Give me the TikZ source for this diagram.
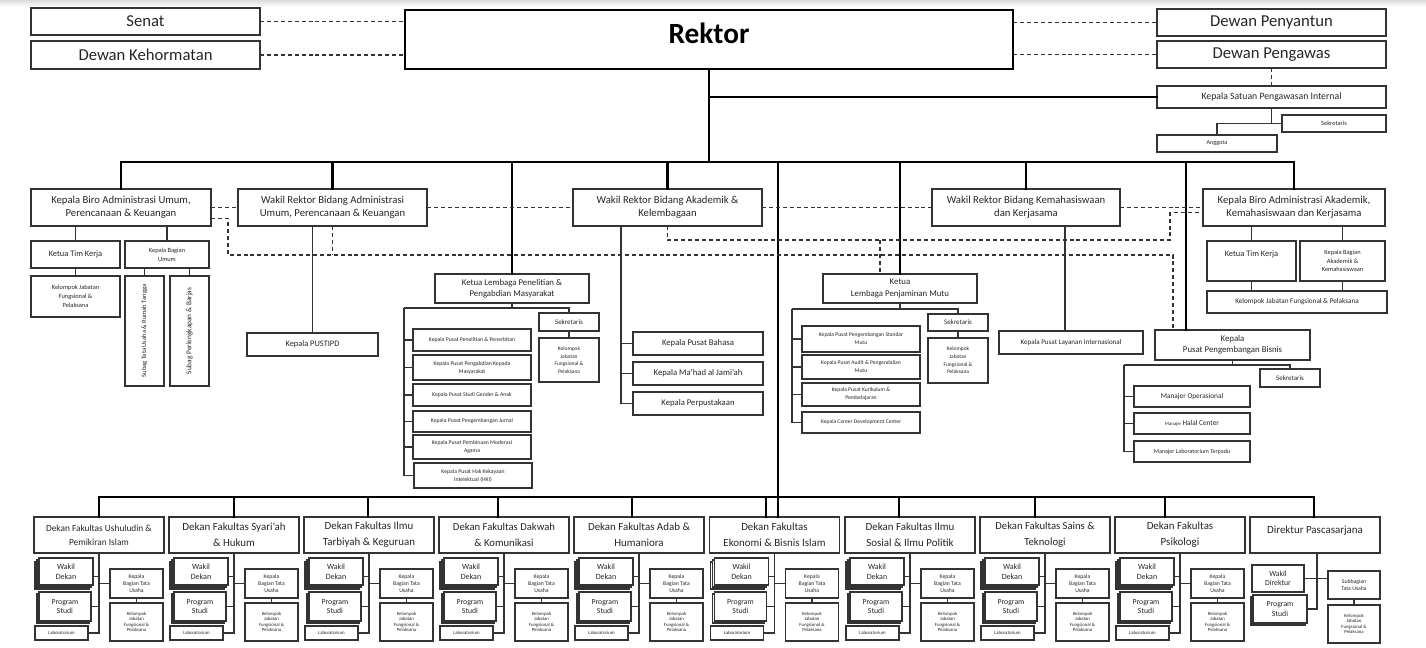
\documentclass[tikz,border=0pt]{standalone}
\usepackage{fontspec}
\setmainfont{Carlito}
\usepackage{graphicx}
\usetikzlibrary{calc}
\newcommand\fs[2]{\fontsize{#1}{#2}\selectfont}
\newcommand\bx[7][]{\node[box,minimum width={((#5)-(#3))*0.75pt},minimum height={((#6)-(#4))*0.75pt},#1] (#2) at ({((#3)+(#5))/2},{((#4)+(#6))/2}) {#7};}
\tikzset{
 box/.style={draw=black!80,line width=0.8pt,fill=white,align=center,inner sep=0.5pt,outer sep=0pt,text=black!85},
 bus/.style={draw=black,line width=1.6pt,line cap=rect},
 con/.style={draw=black!80,line width=0.8pt},
 dsh/.style={draw=black!80,line width=0.8pt,dash pattern=on 3pt off 2.2pt},
 back/.style={draw=black!80,line width=0.8pt,fill=white},
}
% faculty block: #1 id, #2 left x, #3 bus x, #4 title, #5 size, #6 leading
\newcommand\fac[6]{%
 \bx[font=\fs{#5}{#6}]{f#1}{#2}{517}{#2+130}{553}{#4}
 \draw[back] ({#2+1},562) rectangle ({#2+55},589);
 \draw[back] ({#2+3},560) rectangle ({#2+57},587);
 \bx[font=\fs{6}{7.2}]{f#1wd}{#2+5}{558}{#2+59}{585}{Wakil\\Dekan}
 \draw[back] ({#2+3},594) rectangle ({#2+55},623);
 \bx[font=\fs{5.8}{7.2}]{f#1ps}{#2+5}{592}{#2+57}{621}{Program\\Studi}
 \bx[font=\fs{3.6}{4}]{f#1lab}{#2+1}{626}{#2+54}{640}{Laboratorium}
 \bx[font=\fs{4.3}{5}]{f#1tu}{#2+76}{569}{#2+129}{598}{Kepala\\Bagian Tata\\Usaha}
 \bx[font=\fs{3.6}{4}]{f#1kj}{#2+76}{603}{#2+129}{641}{Kelompok\\Jabatan\\Fungsional \&\\Pelaksana}
 \draw[con] (f#1.south) |- (f#1lab.east);
 \draw[con] ([yshift=-4pt]f#1wd.east) -- ([yshift=-4pt]f#1wd.east -| f#1.south);
 \draw[con] (f#1ps.east) -- (f#1ps.east -| f#1.south);
 \draw[con] (f#1tu.west -| f#1.south) -- (f#1tu.west);
 \draw[con] (f#1tu.south) -- (f#1kj.north);
 \coordinate (f#1top) at (#3,517);
 \draw[bus] (f#1top) -- (f#1top |- bb);
}
\begin{document}
\begin{tikzpicture}[x=0.75pt,y=-0.75pt]
\useasboundingbox (0,0) rectangle (1426,648);
\fill[white] (0,0) rectangle (1426,648);
\shade[top color=black!14,bottom color=white] (0,0) rectangle (1426,7);

% ---------- top ----------
\bx[font=\fs{12.5}{15}]{senat}{31}{8}{260}{35}{Senat}
\bx[font=\fs{12.5}{15}]{dk}{31}{41}{260}{69}{Dewan Kehormatan}
\bx[line width=1.8pt,draw=black]{rektor}{405}{10}{1013}{69}{}
\node[font=\fs{22}{26}\bfseries,text=black] (rektortxt) at (709,33) {Rektor};
\bx[font=\fs{12.5}{15}]{dpy}{1157}{9}{1386}{36}{Dewan Penyantun}
\bx[font=\fs{12.5}{15}]{dpw}{1157}{41}{1386}{68}{Dewan Pengawas}
\bx[font=\fs{7.3}{9}]{spi}{1157}{86}{1386}{108}{Kepala Satuan Pengawasan Internal}
\bx[font=\fs{4.8}{6}]{spisek}{1282}{115}{1386}{132}{Sekretaris}
\bx[font=\fs{4.6}{6}]{spiagg}{1157}{135}{1277}{152}{Anggota}

% ---------- level 2 ----------
\bx[font=\fs{8}{10}]{kbaupk}{31}{189}{211}{226}{Kepala Biro Administrasi Umum,\\Perencanaan \& Keuangan}
\bx[font=\fs{8}{10}]{wradm}{238}{189}{427}{226}{Wakil Rektor Bidang Administrasi\\Umum, Perencanaan \& Keuangan}
\bx[font=\fs{8}{10}]{wrak}{573}{189}{762}{226}{Wakil Rektor Bidang Akademik \&\\Kelembagaan}
\bx[font=\fs{8}{10}]{wrkm}{932}{189}{1120}{226}{Wakil Rektor Bidang Kemahasiswaan\\dan Kerjasama}
\bx[font=\fs{8}{10}]{kbaakk}{1203}{189}{1385}{226}{Kepala Biro Administrasi Akademik,\\Kemahasiswaan dan Kerjasama}

% ---------- under Biro AUPK ----------
\bx[font=\fs{6.3}{7.5}]{ktk1}{31}{241}{120}{268}{Ketua Tim Kerja}
\bx[font=\fs{4.8}{6.5}]{kbu}{125}{241}{209}{268}{Kepala Bagian\\Umum}
\bx[font=\fs{4.8}{6.8}]{kjf1}{31}{276}{120}{317}{Kelompok Jabatan\\Fungsional \&\\Pelaksana}
\bx[font=\fs{4.9}{6}]{sub1}{125}{276}{164}{386}{\rotatebox{90}{Subag Tata Usaha \& Rumah Tangga}}
\bx[font=\fs{5.5}{6}]{sub2}{170}{276}{209}{386}{\rotatebox{90}{Subag Perlengkapan \& Barjas}}

% ---------- under WR Adm ----------
\bx[font=\fs{6.3}{7.5}]{pustipd}{247}{333}{378}{356}{Kepala PUSTIPD}

% ---------- LPPM ----------
\bx[font=\fs{6.6}{8.5}]{lppm}{435}{274}{589}{303}{Ketua Lembaga Penelitian \&\\Pengabdian Masyarakat}
\bx[font=\fs{5.2}{6.5}]{lppmsek}{539}{313}{599}{331}{Sekretaris}
\bx[font=\fs{4.1}{5.8}]{lppmkj}{539}{338}{599}{382}{Kelompok\\Jabatan\\Fungsional \&\\Pelaksana}
\bx[font=\fs{4.3}{6}]{p1}{413}{329}{531}{351}{Kepala Pusat Penelitian \& Penerbitan}
\bx[font=\fs{4.3}{6}]{p2}{413}{355}{531}{380}{Kepala Pusat Pengabdian Kepada\\Masyarakat}
\bx[font=\fs{4.3}{6}]{p3}{413}{384}{531}{406}{Kepala Pusat Studi Gender \& Anak}
\bx[font=\fs{4.3}{6}]{p4}{413}{411}{531}{432}{Kepala Pusat Pengembangan Jurnal}
\bx[font=\fs{4.3}{6}]{p5}{413}{435}{531}{459}{Kepala Pusat Pembinaan Moderasi\\Agama}
\bx[font=\fs{4.3}{6}]{p6}{414}{463}{532}{488}{Kepala Pusat Hak Kekayaan\\Intelektual (HKI)}

% ---------- WR Akademik ----------
\bx[font=\fs{6.5}{8}]{bahasa}{633}{332}{763}{355}{Kepala Pusat Bahasa}
\bx[font=\fs{6.5}{8}]{mahad}{633}{362}{763}{385}{Kepala Ma’had al Jami’ah}
\bx[font=\fs{6.5}{8}]{perpus}{633}{392}{763}{415}{Kepala Perpustakaan}

% ---------- LPM ----------
\bx[font=\fs{6.6}{8.5}]{lpm}{823}{274}{977}{303}{Ketua\\Lembaga Penjaminan Mutu}
\bx[font=\fs{5.2}{6.5}]{lpmsek}{928}{314}{988}{331}{Sekretaris}
\bx[font=\fs{4.1}{5.8}]{lpmkj}{928}{338}{988}{383}{Kelompok\\Jabatan\\Fungsional \&\\Pelaksana}
\bx[font=\fs{4.2}{6}]{m1}{802}{326}{920}{352}{Kepala Pusat Pengembangan Standar\\Mutu}
\bx[font=\fs{4.2}{6}]{m2}{802}{355}{920}{379}{Kepala Pusat Audit \& Pengendalian\\Mutu}
\bx[font=\fs{4.2}{6}]{m3}{802}{383}{920}{406}{Kepala Pusat Kurikulum \&\\Pembelajaran}
\bx[font=\fs{4.2}{6}]{m4}{802}{412}{920}{433}{Kepala Career Development Center}

% ---------- WR Kemahasiswaan / PPB ----------
\bx[font=\fs{5.3}{7}]{pli}{999}{331}{1143}{354}{Kepala Pusat Layanan Internasional}
\bx[font=\fs{6.6}{8.5}]{ppb}{1155}{330}{1310}{360}{Kepala\\Pusat Pengembangan Bisnis}
\bx[font=\fs{5.2}{6.5}]{ppbsek}{1260}{369}{1320}{387}{Sekretaris}
\bx[font=\fs{5.5}{7}]{mo}{1134}{386}{1250}{407}{Manajer Operasional}
\bx[font=\fs{5.5}{7}]{mh}{1134}{413}{1250}{434}{{\fs{3.6}{5}Manajer }Halal Center}
\bx[font=\fs{4.5}{6}]{ml}{1134}{441}{1250}{462}{Manajer Laboratorium Terpadu}

% ---------- Biro AAKK ----------
\bx[font=\fs{6.3}{7.5}]{ktk2}{1207}{241}{1296}{281}{Ketua Tim Kerja\\[3pt]\mbox{}}
\bx[font=\fs{4.8}{6.5}]{kbak}{1300}{241}{1385}{281}{Kepala Bagian\\Akademik \&\\Kemahasiswaan}
\bx[font=\fs{5.4}{7}]{kjf2}{1207}{291}{1387}{313}{Kelompok Jabatan Fungsional \& Pelaksana}

% ---------- faculties ----------
\coordinate (bb) at (0,497);
\fac{1}{34}{99}{Dekan Fakultas Ushuludin \&\\Pemikiran Islam}{7}{10.5}
\fac{2}{169}{234}{Dekan Fakultas Syari’ah\\\& Hukum}{8.2}{12}
\fac{3}{304}{368}{Dekan Fakultas Ilmu\\Tarbiyah \& Keguruan}{8.2}{12}
\fac{4}{439}{498}{Dekan Fakultas Dakwah\\\& Komunikasi}{8}{12}
\fac{5}{574}{632}{Dekan Fakultas Adab \&\\Humaniora}{8.2}{12}
\fac{6}{709.5}{766}{Dekan Fakultas\\Ekonomi \& Bisnis Islam}{8.2}{12}
\fac{7}{845}{899}{Dekan Fakultas Ilmu\\Sosial \& Ilmu Politik}{8.2}{12}
\fac{8}{980}{1035}{Dekan Fakultas Sains \&\\Teknologi}{8}{12}
\fac{9}{1115}{1165}{Dekan Fakultas\\Psikologi}{8.2}{12}
% Pascasarjana
\bx[font=\fs{8.2}{12}]{f10}{1250}{517}{1380}{553}{Direktur Pascasarjana\\[-4pt]\mbox{}}
\bx[font=\fs{5.8}{7.2}]{f10wd}{1252}{565}{1304}{592}{Wakil\\Direktur}
\draw[back] (1251,597) rectangle (1305,625);
\bx[font=\fs{5.8}{7.2}]{f10ps}{1253}{595}{1307}{623}{Program\\Studi}
\bx[font=\fs{4.3}{5.2}]{f10tu}{1328}{571}{1380}{599}{Subbagian\\Tata Usaha}
\bx[font=\fs{3.6}{4}]{f10kj}{1328}{605}{1380}{643}{Kelompok\\Jabatan\\Fungsional \&\\Pelaksana}
\coordinate (f10sp) at (1317,553);
\draw[con] (f10sp) |- (f10ps.east);
\draw[con] (f10wd.east) -- (f10wd.east -| f10tu.west);
\draw[con] (f10tu.south) -- (f10kj.north);
\coordinate (f10top) at (1314,517);
\draw[bus] (f10top) -- (f10top |- bb);
\draw[bus] (f1top |- bb) -- (f10top |- bb);

% ---------- top connectors ----------
\draw[dsh] (senat.east) -- (senat.east -| rektor.west);
\draw[dsh] (dk.east) -- (dk.east -| rektor.west);
\draw[dsh] (dpy.west -| rektor.east) -- (dpy.west);
\draw[dsh] (dpw.west -| rektor.east) -- (dpw.west);
\draw[dsh] (dpw.south) -- (spi.north);
\draw[bus] (rektor.south |- spi.west) -- (spi.west);
\draw[con] (spi.south) |- (spisek.west);
\draw[con] (spiagg.north) |- (spisek.west);

\coordinate (tb) at (0,162);
\draw[bus] (rektor.south) -- (rektor.south |- tb);
\draw[bus] (kbaupk.north |- tb) -- (kbaakk.north |- tb);
\foreach \n in {kbaupk,wradm,lppm,wrak,lpm,wrkm,kbaakk} {\draw[bus] (\n.north |- tb) -- (\n.north);}
\coordinate (ppbx) at (1186,162);
\draw[bus] (ppbx) -- (ppbx |- ppb.north);
\coordinate (mid) at (778,162);
\draw[bus] (mid) -- (mid |- f6.north);

% ---------- dashed coordination lines ----------
\draw[dsh] (kbaupk.east) -- (wradm.west);
\draw[dsh] (wradm.east) -- (wrak.west);
\draw[dsh] (wrak.east) -- (wrkm.west);
\draw[dsh] (wrkm.east) -- (kbaakk.west);
\coordinate (d1a) at (228,255);
\coordinate (d1b) at (1173,255);
\draw[dsh] ([yshift=-8pt]kbaupk.east) -| (d1a) -- (d1b) -- (d1b |- ppb.north);
\draw[dsh] (wradm.south) -- (wradm.south |- d1a);
\coordinate (d2) at (1170,240);
\draw[dsh] (wrak.south) |- (d2) |- ([yshift=-4pt]kbaakk.west);
\coordinate (d3) at (880,240);
\draw[dsh] (d3) -- (d3 |- lpm.north);

% ---------- Biro AUPK connectors ----------
\draw[con] (ktk1.north) -- (ktk1.north |- kbaupk.south);
\draw[con] (kbu.north) -- (kbu.north |- kbaupk.south);
\draw[con] (ktk1.south) -- (kjf1.north);
\draw[con] (sub1.north) -- (sub1.north |- kbu.south);
\draw[con] (sub2.north) -- (sub2.north |- kbu.south);
\draw[con] (pustipd.north) -- (pustipd.north |- wradm.south);

% ---------- LPPM connectors ----------
\coordinate (lppmL) at (404,308);
\draw[con] (lppm.south) -- (lppm.south |- lppmL);
\draw[con] (lppmL) -| (lppmsek.north);
\draw[con] (lppmsek.south) -- (lppmkj.north);
\draw[con] (lppmL) |- (p6.west);
\foreach \n in {p1,p2,p3,p4,p5} {\draw[con] (\n.west) -- (\n.west -| lppmL);}

% ---------- WR Akademik connectors ----------
\coordinate (akL) at (621,226);
\draw[con] (akL) |- (perpus.west);
\draw[con] (bahasa.west) -- (bahasa.west -| akL);
\draw[con] (mahad.west) -- (mahad.west -| akL);

% ---------- LPM connectors ----------
\coordinate (lpmL) at (792,309);
\draw[con] (lpm.south) -- (lpm.south |- lpmL);
\draw[con] (lpmL) -| (lpmsek.north);
\draw[con] (lpmsek.south) -- (lpmkj.north);
\draw[con] (lpmL) |- (m4.west);
\foreach \n in {m1,m2,m3} {\draw[con] (\n.west) -- (\n.west -| lpmL);}

% ---------- WR Kemahasiswaan / PPB connectors ----------
\coordinate (plix) at (1065,226);
\draw[con] (plix) -- (plix |- pli.north);
\coordinate (ppbL) at (1124,365);
\draw[con] (ppb.south) -- (ppb.south |- ppbL);
\draw[con] (ppbL) -| (ppbsek.north);
\draw[con] (ppbL) |- (ml.west);
\draw[con] (mo.west) -- (mo.west -| ppbL);
\draw[con] (mh.west) -- (mh.west -| ppbL);

% ---------- Biro AAKK connectors ----------
\draw[con] (ktk2.north) -- (ktk2.north |- kbaakk.south);
\draw[con] (kbak.north) -- (kbak.north |- kbaakk.south);
\draw[con] (ktk2.south) -- (ktk2.south |- kjf2.north);
\draw[con] (kbak.south) -- (kbak.south |- kjf2.north);
\end{tikzpicture}
\end{document}
